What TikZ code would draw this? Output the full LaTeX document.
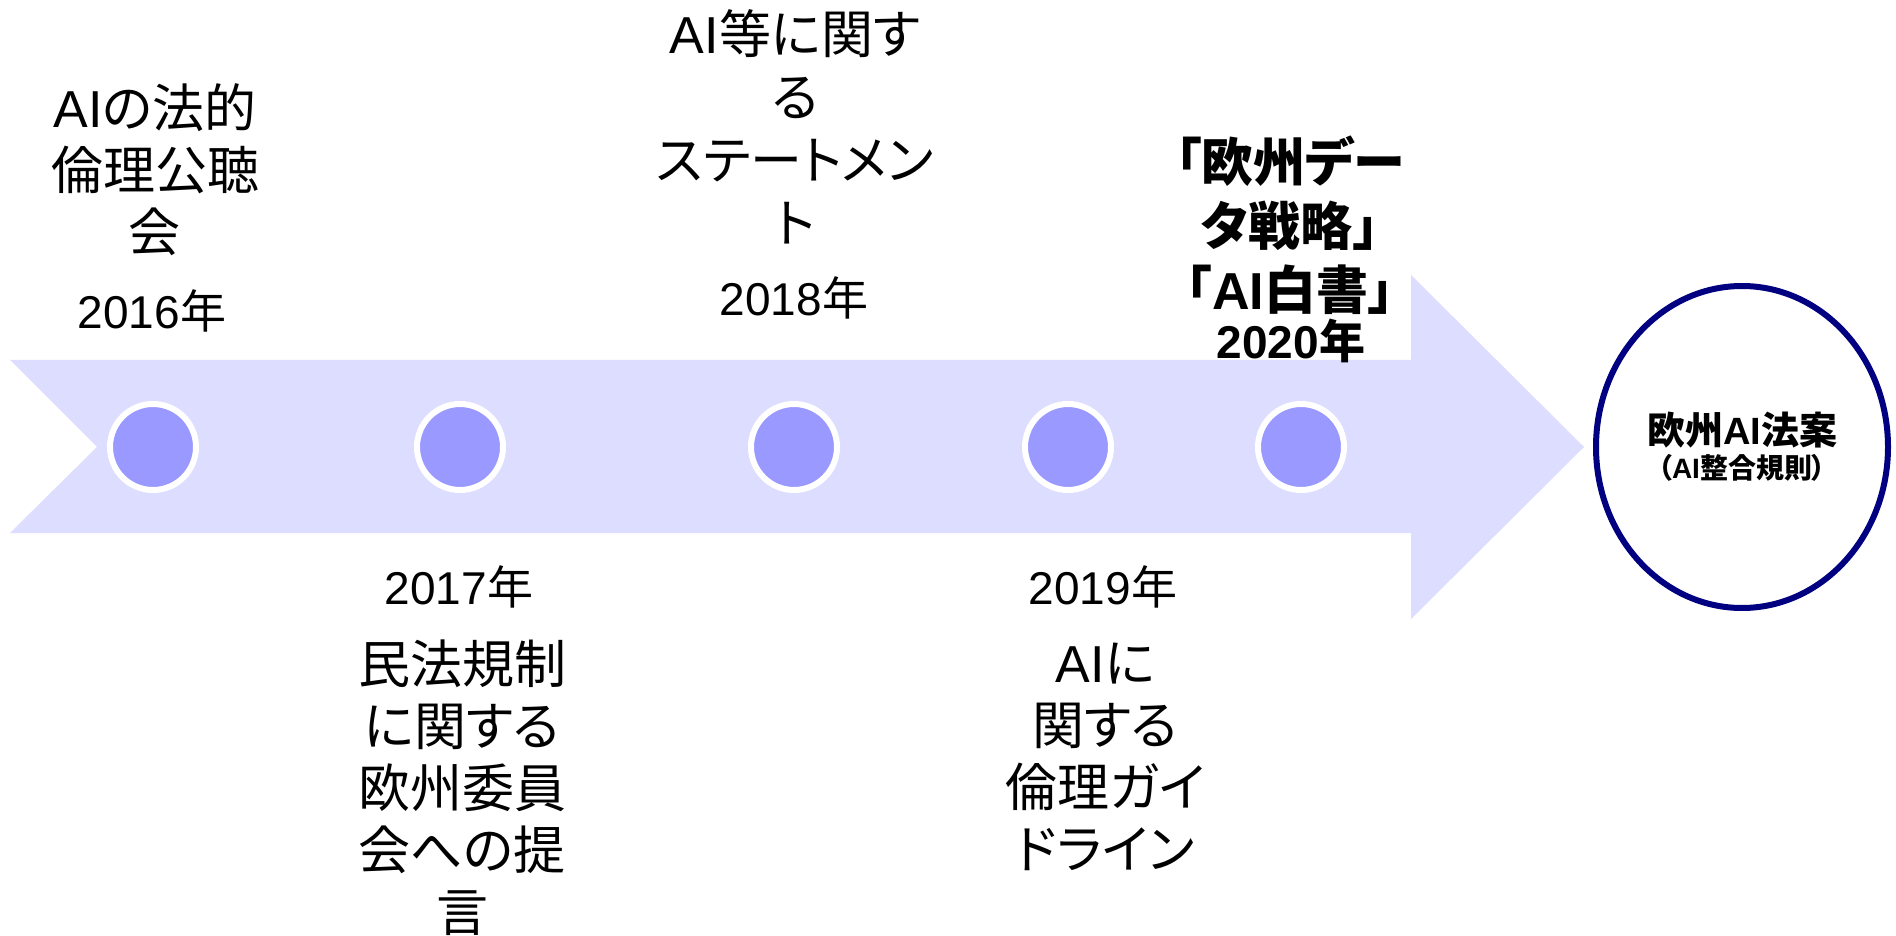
\documentclass[tikz,border=0pt]{standalone}
\usepackage{fontspec}
\usetikzlibrary{shapes.geometric}
\setmainfont{Liberation Sans}
\newfontfamily\jp{Noto Sans CJK JP}[RawFeature=+palt]
\newcommand\J[1]{{\jp #1}}
\definecolor{arrowc}{HTML}{DDDDFF}
\definecolor{dotc}{HTML}{9999FF}
\definecolor{navyc}{HTML}{000080}
\begin{document}
\begin{tikzpicture}[x=0.5pt,y=-0.5pt,
  dot/.style={circle,fill=dotc,draw=white,line width=3pt,minimum size=43pt,inner sep=0pt},
  txt/.style={align=center,inner sep=0pt,font=\fontsize{26pt}{31pt}\selectfont},
  txtb/.style={align=center,inner sep=0pt,font=\fontsize{26pt}{32pt}\selectfont\bfseries},
  yr/.style={inner sep=0pt,font=\fontsize{23pt}{27pt}\selectfont},
  yrb/.style={inner sep=0pt,font=\fontsize{23pt}{27pt}\selectfont\bfseries},
  goal/.style={ellipse,draw=navyc,fill=white,line width=3pt,minimum width=146pt,minimum height=161pt,inner sep=0pt,align=center}]
\useasboundingbox (0,0) rectangle (1896,936);
% arrow
\fill[arrowc] (10,360) -- (1411,360) -- (1411,275) -- (1584,447) -- (1411,619) -- (1411,533) -- (10,533) -- (97,447) -- cycle;
% dots
\node[dot] (d16) at (153,447) {};
\node[dot] (d17) at (460,447) {};
\node[dot] (d18) at (794,447) {};
\node[dot] (d19) at (1068,447) {};
\node[dot] (d20) at (1301,447) {};
% goal
\node[goal] (goal) at (1742,447) {{\fontsize{19pt}{22pt}\selectfont\bfseries\J{欧州}AI\J{法案}}\\[2pt]{\fontsize{14pt}{16pt}\selectfont\bfseries\J{（}AI\J{整合規則）}}};
% 2016
\node[txt] (t16) at (155,170) {AI\J{の法的}\\\J{倫理公聴}\\\J{会}};
\node[yr] (y16) at (152,311) {2016\J{年}};
% 2017
\node[yr] (y17) at (459,587) {2017\J{年}};
\node[txt] (t17) at (462,788) {\J{民法規制}\\\J{に関する}\\\J{欧州委員}\\\J{会への提}\\\J{言}};
% 2018
\node[txt,font=\fontsize{26pt}{31.5pt}\selectfont] (t18) at (795,127) {AI\J{等に関す}\\\J{る}\\\J{ステートメン}\\\J{ト}};
\node[yr] (y18) at (794,298) {2018\J{年}};
% 2019
\node[yr] (y19) at (1103,587) {2019\J{年}};
\node[txt] (t19) at (1105,757) {AI\J{に}\\\J{関する}\\\J{倫理ガイ}\\\J{ドライン}};
% 2020
\node[txtb] (t20) at (1290,225) {\J{「欧州デー}\\\J{タ戦略」}\\\J{「}AI\J{白書」}};
\node[yrb] (y20) at (1291,341) {2020\J{年}};
\end{tikzpicture}
\end{document}
